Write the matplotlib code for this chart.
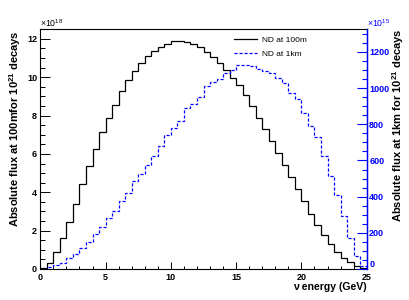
import numpy as np
import matplotlib
matplotlib.use("Agg")
import matplotlib.pyplot as plt
from matplotlib.lines import Line2D

plt.rcParams["font.family"] = ["Liberation Sans", "DejaVu Sans"]
plt.rcParams["mathtext.fontset"] = "custom"
plt.rcParams["mathtext.rm"] = "Liberation Sans"
plt.rcParams["mathtext.bf"] = "Liberation Sans:bold"

# 50 bins of 0.5 GeV from 0 to 25 GeV
bin_edges = np.linspace(0.0, 25.0, 51)

# ND at 100m, units of 1e18
flux_100m = [0.05, 0.31, 0.87, 1.60, 2.47, 3.41, 4.42, 5.37, 6.24, 7.12,
             7.89, 8.55, 9.29, 9.86, 10.30, 10.73, 11.12, 11.38, 11.57, 11.74,
             11.90, 11.88, 11.83, 11.71, 11.57, 11.34, 11.08, 10.75, 10.40, 9.97,
             9.58, 9.05, 8.48, 7.90, 7.31, 6.65, 6.06, 5.44, 4.79, 4.17,
             3.53, 2.88, 2.31, 1.77, 1.30, 0.87, 0.57, 0.35, 0.14, 0.03]

# ND at 1km, units of 1e15
flux_1km = [2, 12, 21, 34, 60, 84, 115, 150, 196, 231,
            281, 322, 378, 420, 486, 527, 576, 626, 682, 742,
            778, 819, 892, 914, 952, 1012, 1034, 1053, 1086, 1099,
            1126, 1126, 1123, 1108, 1095, 1081, 1056, 1029, 975, 940,
            861, 793, 727, 626, 515, 410, 294, 171, 73, 15]

labels = ["ND at 100m", "ND at 1km"]

W, H = 409, 300
fig = plt.figure(figsize=(W / 100, H / 100), dpi=100)
ax = fig.add_axes([40.3 / W, 31 / H, 326.4 / W, 239.7 / H])
ax2 = ax.twinx()

dash = (0, (2.5, 1.5))
ax.stairs(flux_100m, bin_edges, color="black", linewidth=0.9)
ax2.stairs(flux_1km, bin_edges, color="blue", linewidth=0.9, linestyle=dash)

ax.set_xlim(0, 25)
ax.set_ylim(0, 12.5)
ax2.set_ylim(0, 1325)

ax.set_xticks([0, 5, 10, 15, 20, 25])
ax.set_xticks(np.arange(0, 26, 1), minor=True)
ax.set_yticks([0, 2, 4, 6, 8, 10, 12])
ax.set_yticks(np.arange(0, 12.6, 0.5), minor=True)
ax2.set_yticks([0, 200, 400, 600, 800, 1000, 1200])
ax2.set_yticks(np.arange(0, 1326, 50), minor=True)

ax.tick_params(axis="x", which="major", direction="in", length=5, width=0.7, pad=3)
ax.tick_params(axis="x", which="minor", direction="in", length=2.5, width=0.7)
ax.tick_params(axis="y", which="major", direction="in", length=7, width=0.7, pad=2.3)
ax.tick_params(axis="y", which="minor", direction="in", length=3.5, width=0.7)
ax2.tick_params(axis="y", which="major", direction="in", length=7, width=0.8,
                color="blue", labelcolor="blue", pad=1.8)
ax2.tick_params(axis="y", which="minor", direction="in", length=3.5, width=0.8, color="blue")
for lab in ax.get_xticklabels() + ax.get_yticklabels() + ax2.get_yticklabels():
    lab.set_fontsize(6.5)
    lab.set_fontweight("bold")
# right-axis "0" sits a touch higher so it clears the "25" below it
ax2.get_yticklabels()[0].set_va("bottom")

for sp in ax.spines.values():
    sp.set_linewidth(0.8)
for name in ["left", "top", "bottom"]:
    ax2.spines[name].set_visible(False)
ax2.spines["right"].set_color("blue")
ax2.spines["right"].set_linewidth(1.0)

fig.text(15.5 / W, 1 - 30 / H, r"Absolute flux at 100mfor 10$^{\mathbf{21}}$ decays",
         rotation=90, ha="center", va="top", fontsize=8, fontweight="bold")
fig.text(398 / W, 1 - 28 / H, r"Absolute flux at 1km for 10$^{\mathbf{21}}$ decays",
         rotation=90, ha="center", va="top", fontsize=8, fontweight="bold")
fig.text(367 / W, 1 - 287.5 / H, "\u03bd energy (GeV)", ha="right", va="center",
         fontsize=7.6, fontweight="bold")
fig.text(40 / W, 1 - 27 / H, r"$\times$10$^{18}$", ha="left", va="baseline", fontsize=6.3)
fig.text(367 / W, 1 - 27 / H, r"$\times$10$^{15}$", ha="left", va="baseline",
         fontsize=6.3, color="blue")

handles = [Line2D([], [], color="black", linewidth=0.9),
           Line2D([], [], color="blue", linewidth=0.9, linestyle=dash)]
ax2.legend(handles, labels, loc="upper left", bbox_to_anchor=(234 / W, 1 - 36.5 / H),
           bbox_transform=fig.transFigure, frameon=False, fontsize=6,
           handlelength=2.7, handletextpad=0.6, labelspacing=0.75, borderpad=0,
           borderaxespad=0)

fig.savefig("out.png", dpi=100)
